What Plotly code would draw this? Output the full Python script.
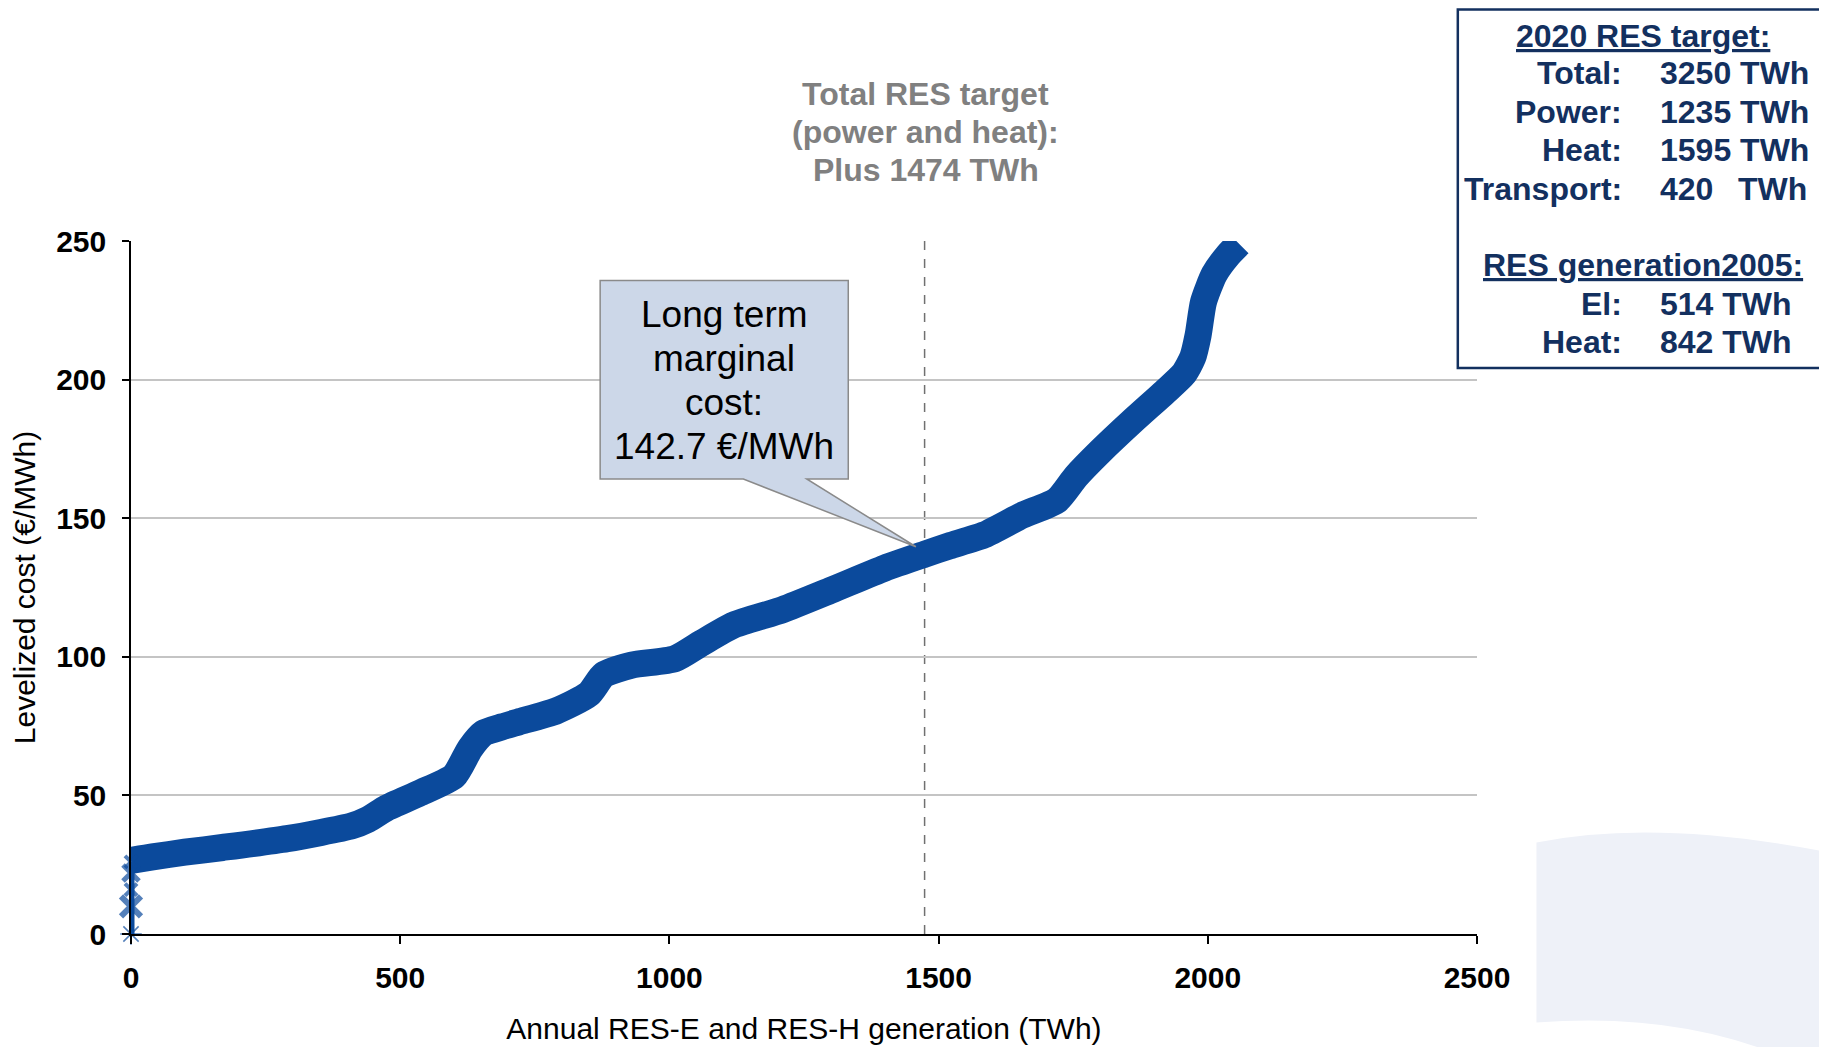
import plotly.graph_objects as go

# ---------------- data ----------------
gen_twh = [0, 40, 100, 170, 290, 410, 440, 475, 537, 600, 630, 655, 690, 720, 790,
           850, 878, 930, 1010, 1060, 1120, 1210, 1300, 1400, 1474, 1520, 1585, 1655,
           1720, 1755, 1800, 1860, 1920, 1955, 1972, 1982, 1992, 2012, 2038, 2058]
cost_eur_mwh = [26.5, 27.8, 29.5, 31.2, 34.4, 39.0, 41.3, 45.5, 50.9, 57.0, 67.0, 72.5,
                74.8, 76.5, 80.5, 86.5, 93.5, 97.0, 99.3, 105.0, 111.5, 117.0, 124.0,
                132.0, 137.0, 140.0, 144.0, 151.0, 156.5, 165.0, 174.0, 185.0, 195.5,
                202.0, 208.0, 216.0, 228.0, 238.0, 245.0, 249.0]
start_x = [0, 0, 0, 0, 0]
start_y = [0, 10, 16, 22, 26]

x_ticks = [0, 500, 1000, 1500, 2000, 2500]
y_ticks = [0, 50, 100, 150, 200, 250]

target_twh = 1474
marginal_cost = 142.7

target_lines = ["Total RES target", "(power and heat):", f"Plus {target_twh} TWh"]
callout_lines = ["Long term", "marginal", "cost:", f"{marginal_cost} €/MWh"]
box_labels = ["Total:", "Power:", "Heat:", "Transport:"]
box_values = ["3250 TWh", "1235 TWh", "1595 TWh", "420"]
gen2005_labels = ["El:", "Heat:"]
gen2005_values = ["514 TWh", "842 TWh"]

# ---------------- geometry helpers (screen pixels, page has 8px body margin) ----------------
OFF = 8
W, H = 1827, 1047
SX0, SX1, SY0, SY1 = 130.5, 1477.5, 934.5, 241.2   # screen px of axis ranges
L, R = SX0 - OFF, W - (SX1 - OFF)
T, B = SY1 - OFF, H - (SY0 - OFF)
PW, PH = SX1 - SX0, SY0 - SY1
XMAX, YMAX = 2500, 250


def pxp(xs):  # screen pixel -> paper x
    return (xs - SX0) / PW


def pyp(ys):  # screen pixel -> paper y
    return (SY0 - ys) / PH


def pxd(xs):  # screen pixel -> data x
    return (xs - SX0) / PW * XMAX


def pyd(ys):  # screen pixel -> data y
    return (SY0 - ys) / PH * YMAX


BLUE = "#0b4a9c"
NAVY = "#13305f"
FONT = "Liberation Sans, Arial, sans-serif"

fig = go.Figure()

fig.add_trace(go.Scatter(
    x=gen_twh, y=cost_eur_mwh, mode="lines",
    line=dict(color=BLUE, width=27, shape="spline", smoothing=0.6),
    hoverinfo="x+y", showlegend=False))

fig.add_trace(go.Scatter(
    x=start_x, y=start_y, mode="lines+markers",
    line=dict(color=BLUE, width=7),
    marker=dict(symbol=["asterisk-open", "x-thin-open", "x-thin-open", "x-thin-open", "x-thin-open"],
                size=[18, 20, 12, 16, 12], color=BLUE,
                line=dict(color=BLUE, width=[1.5, 6, 4, 5, 4])),
    cliponaxis=False, showlegend=False))

shapes = []
shapes.append(dict(type="line", xref="x", yref="y", x0=target_twh, x1=target_twh,
                   y0=0, y1=YMAX, line=dict(color="#707070", width=1.5, dash="dash"),
                   layer="below"))

# callout (box + pointer)
bx0, bx1, by0, by1 = 600, 848.3, 280.7, 479.3
p1, p2 = 743.3, 806.7
tip = (pxd(916.0), marginal_cost - 3)
path = (f"M {pxd(bx0)},{pyd(by0)} L {pxd(bx1)},{pyd(by0)} L {pxd(bx1)},{pyd(by1)} "
        f"L {pxd(p2)},{pyd(by1)} L {tip[0]},{tip[1]} L {pxd(p1)},{pyd(by1)} "
        f"L {pxd(bx0)},{pyd(by1)} Z")
shapes.append(dict(type="path", xref="x", yref="y", path=path,
                   fillcolor="#ccd7e8", line=dict(color="#8a8a8a", width=1.5),
                   layer="above"))

# info box top-right
shapes.append(dict(type="rect", xref="paper", yref="paper",
                   x0=pxp(1458.3), x1=pxp(1840), y0=pyp(368.3), y1=pyp(9.5),
                   line=dict(color=NAVY, width=2.5), fillcolor="white", layer="above"))

# light decorative swoosh bottom-right
sw = [(1537, 843), (1660, 818), (1840, 855), (1840, 1060), (1790, 1060), (1680, 1012),
      (1537, 1023)]
spath = (f"M {pxp(sw[0][0])},{pyp(sw[0][1])} Q {pxp(sw[1][0])},{pyp(sw[1][1])} "
         f"{pxp(sw[2][0])},{pyp(sw[2][1])} L {pxp(sw[3][0])},{pyp(sw[3][1])} "
         f"L {pxp(sw[4][0])},{pyp(sw[4][1])} Q {pxp(sw[5][0])},{pyp(sw[5][1])} "
         f"{pxp(sw[6][0])},{pyp(sw[6][1])} Z")
shapes.append(dict(type="path", xref="paper", yref="paper", path=spath,
                   fillcolor="#eef1f8", line=dict(width=0), layer="below"))

ann = []
cx = (pxd(bx0) + pxd(bx1)) / 2
for line, ys in zip(callout_lines, [315, 359, 403, 447]):
    ann.append(dict(xref="x", yref="paper", x=cx, y=pyp(ys), text=line,
                    showarrow=False, font=dict(family=FONT, size=37, color="black"),
                    xanchor="center", yanchor="middle"))

for line, ys in zip(target_lines, [94, 132, 170]):
    ann.append(dict(xref="x", yref="paper", x=pxd(926), y=pyp(ys), text=f"<b>{line}</b>",
                    showarrow=False, font=dict(family=FONT, size=32, color="#808080"),
                    xanchor="center", yanchor="middle"))

bf = dict(family=FONT, size=32, color=NAVY)
ann.append(dict(xref="paper", yref="paper", x=pxp(1643.3), y=pyp(36),
                text="<b><u>2020 RES target:</u></b>", showarrow=False, font=bf,
                xanchor="center", yanchor="middle"))
rows_y = [73.4, 111.8, 150.3, 188.7]
for lab, val, yy in zip(box_labels, box_values, rows_y):
    ann.append(dict(xref="paper", yref="paper", x=pxp(1625), y=pyp(yy), text=f"<b>{lab}</b>",
                    showarrow=False, font=bf, xanchor="right", yanchor="middle"))
    ann.append(dict(xref="paper", yref="paper", x=pxp(1659), y=pyp(yy), text=f"<b>{val}</b>",
                    showarrow=False, font=bf, xanchor="left", yanchor="middle"))
ann.append(dict(xref="paper", yref="paper", x=pxp(1737), y=pyp(188.7), text="<b>TWh</b>",
                showarrow=False, font=bf, xanchor="left", yanchor="middle"))
ann.append(dict(xref="paper", yref="paper", x=pxp(1643.3), y=pyp(265.6),
                text="<b><u>RES generation2005:</u></b>", showarrow=False, font=bf,
                xanchor="center", yanchor="middle"))
for lab, val, yy in zip(gen2005_labels, gen2005_values, [304, 342.5]):
    ann.append(dict(xref="paper", yref="paper", x=pxp(1625), y=pyp(yy), text=f"<b>{lab}</b>",
                    showarrow=False, font=bf, xanchor="right", yanchor="middle"))
    ann.append(dict(xref="paper", yref="paper", x=pxp(1659), y=pyp(yy), text=f"<b>{val}</b>",
                    showarrow=False, font=bf, xanchor="left", yanchor="middle"))

fig.update_layout(
    width=W, height=H,
    margin=dict(l=L, r=R, t=T, b=B, autoexpand=False),
    paper_bgcolor="white", plot_bgcolor="white",
    showlegend=False,
    shapes=shapes, annotations=ann,
    xaxis=dict(range=[0, XMAX], tickvals=x_ticks, showgrid=False, zeroline=False,
               showline=True, linecolor="black", linewidth=1.5,
               ticks="outside", ticklen=8, tickcolor="black", tickwidth=1.5,
               ticklabelstandoff=8,
               tickfont=dict(family=FONT, size=30, color="black", weight="bold"),
               title=dict(text="Annual RES-E and RES-H generation (TWh)",
                          font=dict(family=FONT, size=30, color="black"), standoff=25)),
    yaxis=dict(range=[0, YMAX], tickvals=y_ticks, showgrid=True, gridcolor="#c4c4c4",
               gridwidth=1.5, zeroline=False,
               showline=True, linecolor="black", linewidth=1.5,
               ticks="outside", ticklen=7, tickcolor="black", tickwidth=1.5,
               ticklabelstandoff=10,
               tickfont=dict(family=FONT, size=30, color="black", weight="bold"),
               title=dict(text="Levelized cost (€/MWh)",
                          font=dict(family=FONT, size=30, color="black"), standoff=14)),
)

fig.write_html("out.html")
